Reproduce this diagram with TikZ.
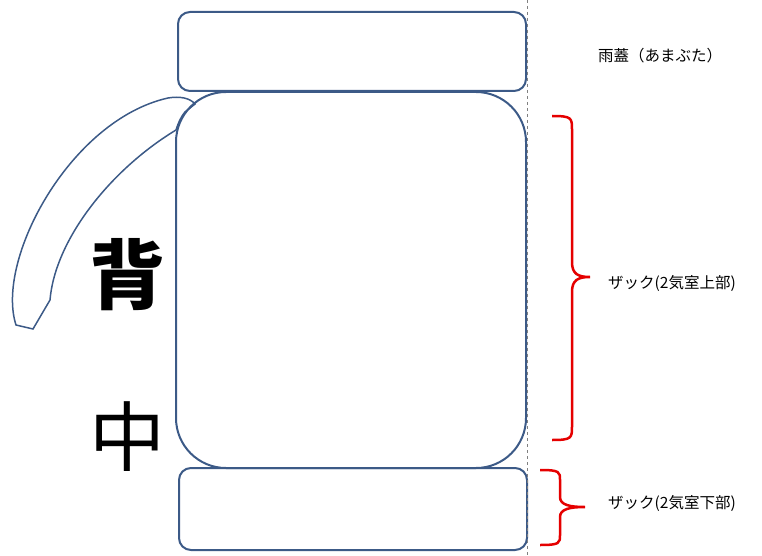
\documentclass[tikz,border=0pt]{standalone}
\usepackage{fontspec}
\setmainfont{Noto Sans CJK JP}
\begin{document}
\begin{tikzpicture}[x=1pt,y=-1pt,
  lbl/.style={font=\fontsize{15.5}{17}\selectfont,inner sep=0pt}]
\definecolor{bx}{RGB}{60,90,135}
\useasboundingbox (0,0) rectangle (762,556);
\draw[bx,line width=2pt,rounded corners=12pt] (178,12) rectangle (526,91);
\draw[bx,line width=2pt,rounded corners=50pt] (176,92) rectangle (526,468);
\draw[bx,line width=2pt,rounded corners=12pt] (179,468) rectangle (527,550);
\draw[gray,dashed] (527,0) -- (527,556);
\draw[bx,line width=1.5pt] (176,130) .. controls (110,170) and (55,240) .. (50,300) -- (33,329) -- (16,325)
  .. controls (-5,260) and (70,120) .. (168,98) .. controls (180,96) and (190,98) .. (195,104) -- (185,112) .. controls (180,118) and (178,124) .. (176,130);
\node[font=\fontsize{76}{80}\selectfont\bfseries] (a) at (127,275) {背};
\node[font=\fontsize{76}{80}\selectfont] (b) at (127,437) {中};
\draw[red!90!black,line width=2.5pt] (552,116) .. controls (572,116) and (572,118) .. (572,130) -- (572,262) .. controls (572,274) and (578,277) .. (590,277)
  .. controls (578,277) and (572,280) .. (572,292) -- (572,426) .. controls (572,438) and (572,440) .. (552,440);
\draw[red!90!black,line width=2.5pt] (540,470) .. controls (560,470) and (560,472) .. (560,480) -- (560,497) .. controls (560,505) and (570,507) .. (585,507)
  .. controls (570,507) and (560,509) .. (560,517) -- (560,535) .. controls (560,543) and (560,545) .. (540,545);
\node[lbl] (t1) at (660,56) {雨蓋（あまぶた）};
\node[lbl] (t2) at (672,283) {ザック(2気室上部)};
\node[lbl] (t3) at (672,503) {ザック(2気室下部)};
\end{tikzpicture}
\end{document}
